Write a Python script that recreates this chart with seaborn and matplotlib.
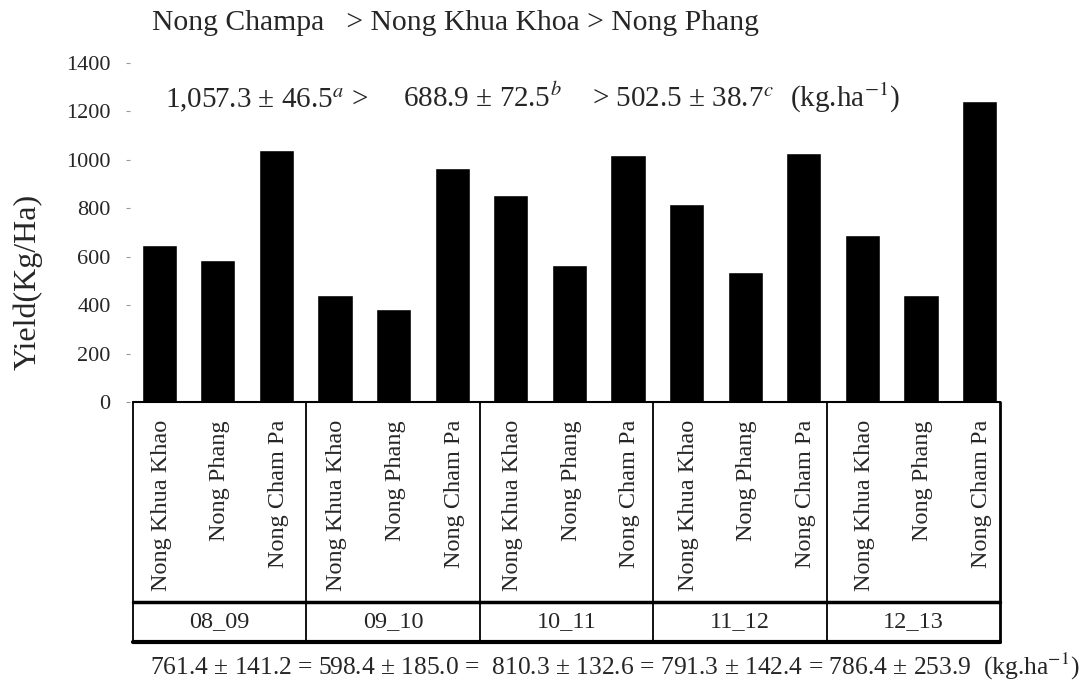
import matplotlib
matplotlib.use('Agg')
import matplotlib.pyplot as plt
import seaborn as sns
import pandas as pd

# data
seasons = ['08_09', '09_10', '10_11', '11_12', '12_13']
varieties = ['Nong Khua Khao', 'Nong Phang', 'Nong Cham Pa']
yield_08_09 = [647, 588, 1042]
yield_09_10 = [440, 384, 968]
yield_10_11 = [853, 565, 1022]
yield_11_12 = [818, 538, 1030]
yield_12_13 = [688, 443, 1243]
yticks = [0, 200, 400, 600, 800, 1000, 1200, 1400]

title_line = 'Nong Champa   > Nong Khua Khoa > Nong Phang'
variety_means = ['1,057.3 ± 46.5$^{a}$ >', '688.9 ± 72.5$^{b}$',
                 '> 502.5 ± 38.7$^{c}$', '(kg.ha$^{-1}$)']
season_means = ('761.4 ± 141.2 = 598.4 ± 185.0 =  810.3 ± 132.6 = '
                '791.3 ± 142.4 = 786.4 ± 253.9  (kg.ha$^{-1}$)')

all_yields = [yield_08_09, yield_09_10, yield_10_11, yield_11_12, yield_12_13]
rows = []
for s, vals in zip(seasons, all_yields):
    for v, y in zip(varieties, vals):
        rows.append({'slot': s + ' ' + v, 'season': s, 'variety': v, 'yield': y})
df = pd.DataFrame(rows)

sns.set_style('white')
plt.rcParams['font.family'] = ['Liberation Serif', 'DejaVu Serif']
plt.rcParams['mathtext.fontset'] = 'stix'

W, H = 1083, 694
fig = plt.figure(figsize=(W / 100, H / 100), dpi=100)
ax = fig.add_axes([0.12, 0.4207, 0.8116, 0.4885])

sns.barplot(data=df, x='slot', y='yield', order=list(df['slot']),
            color='black', saturation=1, width=0.6, ax=ax)

ax.set_xlim(-0.5, len(df) - 0.5)
ax.set_ylim(0, 1400)
ax.set_yticks(yticks)
ax.set_yticklabels([str(t) for t in yticks], fontsize=16)
ax.tick_params(axis='y', length=3, width=0.8, color='#999999', pad=11, left=True)
ax.set_xticks([])
ax.set_xlabel('')
ax.set_ylabel('')
for sp in ax.spines.values():
    sp.set_visible(False)

# category table under the bars
x0, x1 = 133 / W, 1000 / W
y_top, y_mid, y_bot = 1 - 402 / H, 1 - 601.5 / H, 1 - 641.5 / H
tf = fig.transFigure
fig.add_artist(plt.Line2D([x0, x1], [y_top, y_top], color='black', lw=1.5, transform=tf))
fig.add_artist(plt.Line2D([x0, x1], [y_mid, y_mid], color='black', lw=2.5, transform=tf))
fig.add_artist(plt.Line2D([x0, x1], [y_bot, y_bot], color='black', lw=3, transform=tf))
gw = (x1 - x0) / len(seasons)
for k in range(len(seasons) + 1):
    xx = x0 + k * gw
    fig.add_artist(plt.Line2D([xx, xx], [y_top, y_bot], color='black',
                              lw=2 if k == len(seasons) else 1.3, transform=tf))
for k, s in enumerate(seasons):
    fig.text(x0 + (k + 0.5) * gw, 1 - 621.7 / H, s, ha='center', va='center', fontsize=17.5)

for i, v in enumerate(df['variety']):
    ax.text(i + 0.03, 1 - 420 / H, v, transform=matplotlib.transforms.blended_transform_factory(ax.transData, tf),
            rotation=90, ha='center', va='top', fontsize=17.5, clip_on=False)

fig.text(0.026, 1 - 281.5 / H, 'Yield(Kg/Ha)', rotation=90, ha='center', va='center', fontsize=23)
fig.text(152 / W, 1 - 30 / H, title_line, ha='left', va='baseline', fontsize=21.3)
for xp, piece in zip([165, 403, 592, 790], variety_means):
    fig.text(xp / W, 1 - 107 / H, piece, ha='left', va='baseline', fontsize=21)
fig.text(150 / W, 1 - 675 / H, season_means, ha='left', va='baseline', fontsize=18.4)

fig.savefig('out.png', dpi=100)
